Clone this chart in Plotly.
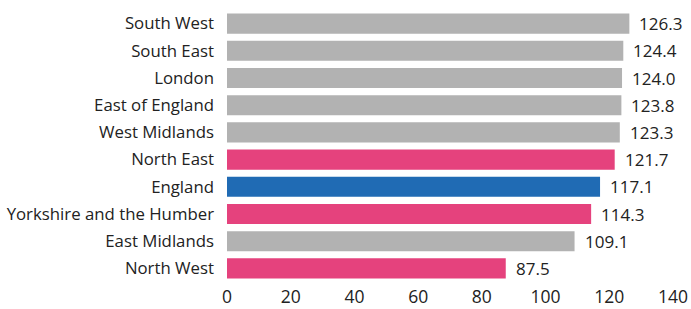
import plotly.graph_objects as go

regions = ["South West", "South East", "London", "East of England", "West Midlands",
           "North East", "England", "Yorkshire and the Humber", "East Midlands", "North West"]
values = [126.3, 124.4, 124.0, 123.8, 123.3, 121.7, 117.1, 114.3, 109.1, 87.5]
groups = ["other", "other", "other", "other", "other",
          "highlight", "england", "highlight", "other", "highlight"]
x_ticks = [0, 20, 40, 60, 80, 100, 120, 140]

color_map = {"other": "#b2b2b2", "highlight": "#e5427d", "england": "#206bb4"}
colors = [color_map[g] for g in groups]

FONT = "'Open Sans', Arial, sans-serif"

fig = go.Figure()
fig.add_trace(go.Bar(
    x=values, y=regions, orientation="h",
    marker=dict(color=colors, line=dict(width=0)),
    hoverinfo="x+y",
))

for r, v in zip(regions, values):
    fig.add_annotation(x=v, y=r, text=f"{v:.1f}", showarrow=False,
                       xanchor="left", yanchor="middle", xshift=8, yshift=0,
                       font=dict(family=FONT, size=17, color="#222222"))

fig.update_layout(
    width=691, height=309,
    margin=dict(l=227, r=18, t=10, b=27),
    paper_bgcolor="white", plot_bgcolor="white",
    bargap=0.26,
    showlegend=False,
    font=dict(family=FONT, size=16, color="#222222"),
)
fig.update_xaxes(range=[0, 140], tickvals=x_ticks, showgrid=False, zeroline=False,
                 showline=False, ticks="", tickfont=dict(size=17.5), ticklabelstandoff=2,
                 automargin=False)
fig.update_yaxes(autorange="reversed", showgrid=False, zeroline=False, showline=False,
                 ticks="", ticklabelstandoff=12, tickfont=dict(size=16.8), automargin=False)

fig.write_html("out.html", config={"displayModeBar": False},
               post_script="document.body.style.margin='0';document.body.style.overflow='hidden';")
